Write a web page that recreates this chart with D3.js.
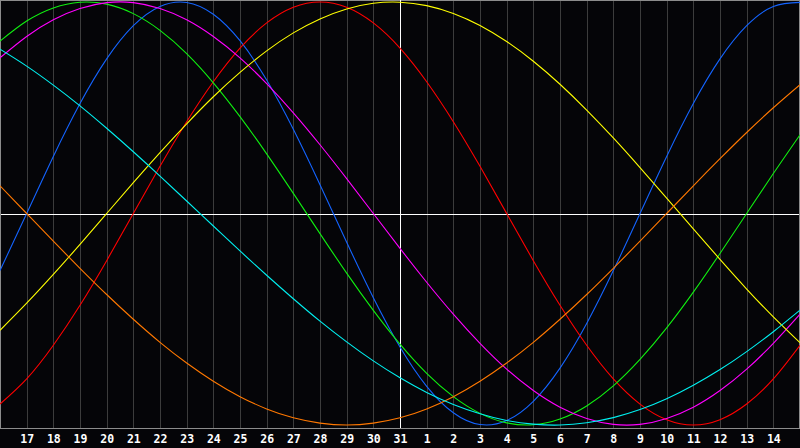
<!DOCTYPE html>
<html>
<head>
<meta charset="utf-8">
<script src="https://cdn.jsdelivr.net/npm/d3@7"></script>
<style>
  body { margin: 0; background: #050508; }
  svg { display: block; }
</style>
</head>
<body>
<script>
// day labels along the bottom (index 0 = the 16th, index 30 = the 15th)
const dayLabels = ["16", "17", "18", "19", "20", "21", "22", "23", "24", "25", "26", "27", "28", "29", "30", "31",
  "1", "2", "3", "4", "5", "6", "7", "8", "9", "10", "11", "12", "13", "14", "15"];

// cycle values per day, per mille
const physical = [-270, 0, 270, 520, 731, 888, 979, 998, 942, 817, 631,
  398, 136, -136, -398, -631, -817, -942, -998, -979, -888, -731,
  -520, -270, 0, 270, 520, 731, 888, 979, 998];
const emotional = [-901, -782, -623, -434, -223, 0, 223, 434, 623, 782, 901,
  975, 1000, 975, 901, 782, 623, 434, 223, 0, -223, -434,
  -623, -782, -901, -975, -1000, -975, -901, -782, -623];
const intellectual = [815, 910, 972, 999, 990, 945, 866, 756, 618, 458, 282,
  95, -95, -282, -458, -618, -756, -866, -945, -990, -999, -972,
  -910, -815, -690, -541, -372, -189, 0, 189, 372];
const intuitive = [736, 837, 916, 969, 997, 997, 969, 916, 837, 736, 614,
  476, 325, 165, 0, -165, -325, -476, -614, -736, -837, -916,
  -969, -997, -997, -969, -916, -837, -736, -614, -476];
const aesthetic = [-552, -424, -288, -146, 0, 146, 288, 424, 552, 667, 769,
  854, 920, 967, 994, 999, 983, 946, 889, 813, 720, 611,
  489, 357, 217, 73, -73, -217, -357, -489, -611];
const awareness = [131, 0, -131, -259, -383, -500, -609, -707, -793, -866, -924,
  -966, -991, -1000, -991, -966, -924, -866, -793, -707, -609, -500,
  -383, -259, -131, 0, 131, 259, 383, 500, 609];
const spiritual = [777, 697, 607, 509, 403, 292, 177, 59, -59, -177, -292,
  -403, -509, -607, -697, -777, -846, -903, -947, -979, -996, -1000,
  -989, -965, -927, -876, -812, -738, -653, -559, -457];

const series = [
  {name: "physical", values: physical, color: "#1464ff"},
  {name: "emotional", values: emotional, color: "#ff0000"},
  {name: "intellectual", values: intellectual, color: "#10f010"},
  {name: "intuitive", values: intuitive, color: "#ff00ff"},
  {name: "aesthetic", values: aesthetic, color: "#ffff00"},
  {name: "awareness", values: awareness, color: "#ff7800"},
  {name: "spiritual", values: spiritual, color: "#00f0f0"}
];
const today = 15; // the "31", drawn as the white line

const width = 800, height = 448;
const plotBottom = 428;

const x = d3.scaleLinear().domain([0, dayLabels.length - 1]).range([0, width]);
const y = d3.scaleLinear().domain([-1000, 1000]).range([425, 2]);

const svg = d3.select("body").append("svg")
    .attr("width", width)
    .attr("height", height)
    .style("background", "#050508");

// day grid
const grid = svg.append("g").attr("shape-rendering", "crispEdges");
grid.selectAll("line")
  .data(d3.range(1, dayLabels.length - 1).filter(d => d !== today))
  .join("line")
    .attr("x1", d => Math.round(x(d)) + 0.5)
    .attr("x2", d => Math.round(x(d)) + 0.5)
    .attr("y1", 0)
    .attr("y2", plotBottom)
    .attr("stroke", "#3c3c3c");

// frame
grid.append("rect")
    .attr("x", 0.5).attr("y", 0.5)
    .attr("width", width - 1).attr("height", plotBottom - 0.5)
    .attr("fill", "none")
    .attr("stroke", "#8c8c8c");

// zero line and today line
grid.append("line")
    .attr("x1", 1).attr("x2", width - 1)
    .attr("y1", Math.ceil(y(0)) + 0.5).attr("y2", Math.ceil(y(0)) + 0.5)
    .attr("stroke", "#ffffff");
grid.append("line")
    .attr("x1", Math.round(x(today)) + 0.5).attr("x2", Math.round(x(today)) + 0.5)
    .attr("y1", 0).attr("y2", plotBottom)
    .attr("stroke", "#ffffff");

// curves
const line = d3.line()
    .x((d, i) => x(i))
    .y(d => y(d))
    .curve(d3.curveNatural);

svg.append("g")
  .selectAll("path")
  .data(series)
  .join("path")
    .attr("d", d => line(d.values))
    .attr("fill", "none")
    .attr("stroke", d => d.color)
    .attr("stroke-width", 1.1);

// bottom labels
const xAxis = d3.axisBottom(x)
    .tickValues(d3.range(1, dayLabels.length - 1))
    .tickFormat(i => dayLabels[i])
    .tickSize(0)
    .tickPadding(7);

svg.append("g")
    .attr("transform", `translate(0,${plotBottom})`)
    .call(xAxis)
    .call(g => g.select(".domain").remove())
    .call(g => g.selectAll("text")
        .attr("fill", "#ffffff")
        .attr("font-family", "'DejaVu Sans Mono', monospace")
        .attr("font-weight", "bold")
        .attr("font-size", 11.5));
</script>
</body>
</html>
